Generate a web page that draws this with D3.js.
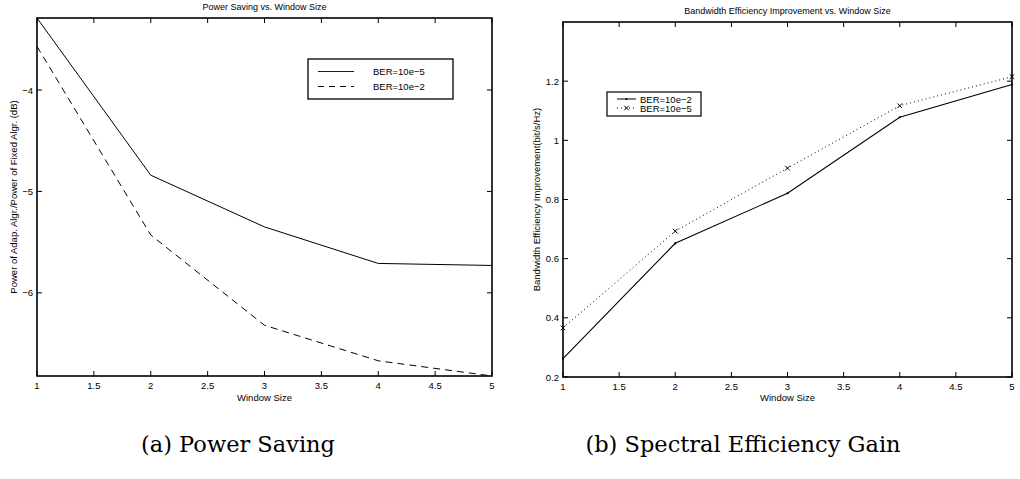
<!DOCTYPE html>
<html>
<head>
<meta charset="utf-8">
<script src="https://cdn.jsdelivr.net/npm/d3@7"></script>
<style>
  html, body { margin: 0; padding: 0; background: #fff; }
  svg { display: block; }
  text { font-family: "Liberation Sans", Arial, sans-serif; fill: #000; }
  .cap { font-family: "DejaVu Serif", "Liberation Serif", serif; }
</style>
</head>
<body>
<svg id="chart" width="1020" height="479"></svg>
<script>
// ---- data ----
const windowSize = [1, 2, 3, 4, 5];
const xTicks = [1, 1.5, 2, 2.5, 3, 3.5, 4, 4.5, 5];

const powerBER5 = [-3.29, -4.84, -5.35, -5.71, -5.73];
const powerBER2 = [-3.57, -5.43, -6.32, -6.67, -6.82];
const powerYTicks = [-4, -5, -6];
const powerLegend = ["BER=10e\u22125", "BER=10e\u22122"];

const bwBER2 = [0.262, 0.652, 0.821, 1.078, 1.189];
const bwBER5 = [0.366, 0.693, 0.906, 1.117, 1.215];
const bwYTicks = [0.2, 0.4, 0.6, 0.8, 1, 1.2];
const bwLegend = ["BER=10e\u22122", "BER=10e\u22125"];

const titles = ["Power Saving vs. Window Size", "Bandwidth Efficiency Improvement vs. Window Size"];
const yLabels = ["Power of Adap. Algr./Power of Fixed Algr. (dB)", "Bandwidth Efficiency Improvement(bit/s/Hz)"];
const xLabel = "Window Size";
const captions = ["(a) Power Saving", "(b) Spectral Efficiency Gain"];

const svg = d3.select("#chart");

function fmtTick(v) {
  return String(v).replace("-", "\u2212");
}

function drawAxes(g, x, y, yTicks, box) {
  const tl = 5;
  xTicks.forEach(t => {
    const px = x(t);
    g.append("line").attr("x1", px).attr("x2", px).attr("y1", box.b).attr("y2", box.b - tl).attr("stroke", "#000");
    g.append("line").attr("x1", px).attr("x2", px).attr("y1", box.t).attr("y2", box.t + tl).attr("stroke", "#000");
    g.append("text").attr("x", px).attr("y", box.b + 13).attr("text-anchor", "middle")
      .attr("font-size", 9.5).text(fmtTick(t));
  });
  yTicks.forEach(t => {
    const py = y(t);
    g.append("line").attr("x1", box.l).attr("x2", box.l + tl).attr("y1", py).attr("y2", py).attr("stroke", "#000");
    g.append("line").attr("x1", box.r).attr("x2", box.r - tl).attr("y1", py).attr("y2", py).attr("stroke", "#000");
    g.append("text").attr("x", box.l - 4).attr("y", py + 3.5).attr("text-anchor", "end")
      .attr("font-size", 9.5).text(fmtTick(t));
  });
}

function drawBox(g, box) {
  g.append("rect").attr("x", box.l).attr("y", box.t).attr("width", box.r - box.l).attr("height", box.b - box.t)
    .attr("fill", "none").attr("stroke", "#000").attr("stroke-width", 1.6);
}

// ================= Left chart =================
{
  const box = { l: 37, r: 492, t: 18, b: 376 };
  const g = svg.append("g");
  const x = d3.scaleLinear().domain([1, 5]).range([box.l, box.r]);
  const y = d3.scaleLinear().domain(d3.extent(powerBER5.concat(powerBER2))).range([box.b, box.t]);

  const line = d3.line().x((d, i) => x(windowSize[i])).y(d => y(d));

  g.append("path").datum(powerBER5).attr("d", line).attr("fill", "none").attr("stroke", "#000").attr("stroke-width", 1);
  g.append("path").datum(powerBER2).attr("d", line).attr("fill", "none").attr("stroke", "#000").attr("stroke-width", 1)
    .attr("stroke-dasharray", "7,5");

  drawAxes(g, x, y, powerYTicks, box);
  drawBox(g, box);

  g.append("text").attr("x", (box.l + box.r) / 2).attr("y", 10).attr("text-anchor", "middle")
    .attr("font-size", 9).text(titles[0]);
  g.append("text").attr("x", (box.l + box.r) / 2).attr("y", 401).attr("text-anchor", "middle")
    .attr("font-size", 9.5).text(xLabel);
  g.append("text").attr("transform", `translate(17,${(box.t + box.b) / 2}) rotate(-90)`).attr("text-anchor", "middle")
    .attr("font-size", 9.5).text(yLabels[0]);

  // legend
  const lg = g.append("g");
  lg.append("rect").attr("x", 308).attr("y", 59).attr("width", 145).attr("height", 40)
    .attr("fill", "#fff").attr("stroke", "#000").attr("stroke-width", 1.3);
  lg.append("line").attr("x1", 318).attr("x2", 354).attr("y1", 71.5).attr("y2", 71.5).attr("stroke", "#0000ff");
  lg.append("line").attr("x1", 318).attr("x2", 354).attr("y1", 86.5).attr("y2", 86.5).attr("stroke", "#000")
    .attr("stroke-dasharray", "6,5");
  lg.append("text").attr("x", 373).attr("y", 75).attr("font-size", 9.5).text(powerLegend[0]);
  lg.append("text").attr("x", 373).attr("y", 90).attr("font-size", 9.5).text(powerLegend[1]);

  svg.append("text").attr("class", "cap").attr("x", 238).attr("y", 452).attr("text-anchor", "middle")
    .attr("font-size", 22.5).text(captions[0]);
}

// ================= Right chart =================
{
  const box = { l: 563, r: 1012, t: 22, b: 377 };
  const g = svg.append("g");
  const x = d3.scaleLinear().domain([1, 5]).range([box.l, box.r]);
  const y = d3.scaleLinear().domain([0.2, 1.4]).range([box.b, box.t]);

  const line = d3.line().x((d, i) => x(windowSize[i])).y(d => y(d));

  g.append("path").datum(bwBER2).attr("d", line).attr("fill", "none").attr("stroke", "#000").attr("stroke-width", 1.1);
  g.selectAll(".dot").data(bwBER2).enter().append("circle")
    .attr("cx", (d, i) => x(windowSize[i])).attr("cy", d => y(d)).attr("r", 1.1).attr("fill", "#000");
  g.append("path").datum(bwBER5).attr("d", line).attr("fill", "none").attr("stroke", "#000").attr("stroke-width", 1)
    .attr("stroke-dasharray", "1,3");

  const xm = (gg, cx, cy) => {
    const s = 2.3;
    gg.append("path").attr("d", `M${cx - s},${cy - s}L${cx + s},${cy + s}M${cx - s},${cy + s}L${cx + s},${cy - s}`)
      .attr("stroke", "#000").attr("stroke-width", 1);
  };
  bwBER5.forEach((d, i) => xm(g, x(windowSize[i]), y(d)));

  drawAxes(g, x, y, bwYTicks, box);
  drawBox(g, box);

  g.append("text").attr("x", (box.l + box.r) / 2).attr("y", 14).attr("text-anchor", "middle")
    .attr("font-size", 9).text(titles[1]);
  g.append("text").attr("x", (box.l + box.r) / 2).attr("y", 401).attr("text-anchor", "middle")
    .attr("font-size", 9.5).text(xLabel);
  g.append("text").attr("transform", `translate(540,${(box.t + box.b) / 2}) rotate(-90)`).attr("text-anchor", "middle")
    .attr("font-size", 9.5).text(yLabels[1]);

  // legend
  const lg = g.append("g");
  lg.append("rect").attr("x", 607).attr("y", 92).attr("width", 94).attr("height", 24)
    .attr("fill", "#fff").attr("stroke", "#000").attr("stroke-width", 1.2);
  lg.append("line").attr("x1", 617).attr("x2", 636).attr("y1", 99).attr("y2", 99).attr("stroke", "#000");
  lg.append("circle").attr("cx", 626.5).attr("cy", 99).attr("r", 1.1).attr("fill", "#000");
  lg.append("line").attr("x1", 617).attr("x2", 636).attr("y1", 108).attr("y2", 108).attr("stroke", "#000")
    .attr("stroke-dasharray", "1,3");
  xm(lg, 626.5, 108);
  lg.append("text").attr("x", 640).attr("y", 102.5).attr("font-size", 9.5).text(bwLegend[0]);
  lg.append("text").attr("x", 640).attr("y", 111.5).attr("font-size", 9.5).text(bwLegend[1]);

  svg.append("text").attr("class", "cap").attr("x", 743).attr("y", 452).attr("text-anchor", "middle")
    .attr("font-size", 22.5).text(captions[1]);
}
</script>
</body>
</html>
